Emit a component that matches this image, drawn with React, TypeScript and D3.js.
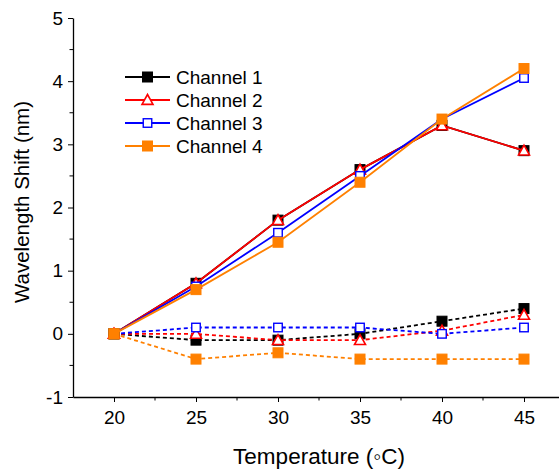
import React, { useRef, useEffect } from 'react';
import * as d3 from 'd3';

const temperatures = [20, 25, 30, 35, 40, 45];
const channelNames = ['Channel 1', 'Channel 2', 'Channel 3', 'Channel 4'];
const channelColors = ['#000000', '#ff0000', '#0000ff', '#ff8000'];
const channelMarkers = ['filledSquare', 'openTriangle', 'openSquare', 'filledSquare'];

// solid lines (one sensor set) and dashed lines (reference set)
const solidCh1 = [0, 0.8, 1.8, 2.6, 3.3, 2.9];
const solidCh2 = [0, 0.8, 1.8, 2.6, 3.3, 2.9];
const solidCh3 = [0, 0.75, 1.6, 2.5, 3.4, 4.05];
const solidCh4 = [0, 0.7, 1.45, 2.4, 3.4, 4.2];
const dashedCh1 = [0, -0.1, -0.1, 0, 0.2, 0.4];
const dashedCh2 = [0, 0, -0.1, -0.1, 0.05, 0.3];
const dashedCh3 = [0, 0.1, 0.1, 0.1, 0, 0.1];
const dashedCh4 = [0, -0.4, -0.3, -0.4, -0.4, -0.4];

const xTicks = [20, 25, 30, 35, 40, 45];
const yTicks = [-1, 0, 1, 2, 3, 4, 5];

const App: React.FC = () => {
  const svgRef = useRef<SVGSVGElement>(null);

  useEffect(() => {
    if (!svgRef.current) return;
    const svg = d3.select(svgRef.current);
    svg.selectAll('*').remove();

    const font = 'Arial, "Liberation Sans", sans-serif';
    const x = d3.scaleLinear().domain([17.5, 47.5]).range([73, 565]);
    const y = d3.scaleLinear().domain([-1, 5]).range([397, 18]);

    // x axis
    const xAxis = svg.append('g').attr('transform', `translate(0,${y(-1)})`);
    xAxis.call(d3.axisBottom(x).tickValues(xTicks).tickFormat(d => String(d))
      .tickSize(5).tickSizeOuter(0).tickPadding(9))
      .style('font-family', font).style('font-size', '19px');
    xAxis.append('g').selectAll('line')
      .data(d3.range(17.5, 48, 2.5).filter(v => v % 5 !== 0 && v > 17.5))
      .enter().append('line')
      .attr('x1', d => x(d)).attr('x2', d => x(d)).attr('y1', 0).attr('y2', 3.5)
      .attr('stroke', '#000');

    // y axis
    const yAxis = svg.append('g').attr('transform', `translate(${x(17.5)},0)`);
    yAxis.call(d3.axisLeft(y).tickValues(yTicks).tickFormat(d => String(d))
      .tickSize(5).tickSizeOuter(0).tickPadding(5))
      .style('font-family', font).style('font-size', '19px');
    yAxis.append('g').selectAll('line')
      .data(d3.range(-0.5, 5, 1))
      .enter().append('line')
      .attr('x1', 0).attr('x2', -3.5).attr('y1', d => y(d)).attr('y2', d => y(d))
      .attr('stroke', '#000');
    svg.selectAll('.domain').attr('stroke-width', 1.3);
    svg.selectAll('.tick text').attr('fill', '#000');

    // titles
    svg.append('text').attr('x', 319).attr('y', 464).attr('text-anchor', 'middle')
      .style('font-family', font).style('font-size', '22.5px').text('Temperature (\u25E6C)');
    svg.append('text').attr('transform', `translate(29,202) rotate(-90)`).attr('text-anchor', 'middle')
      .style('font-family', font).style('font-size', '20.5px').text('Wavelength Shift (nm)');

    const drawMarker = (g: d3.Selection<SVGGElement, unknown, null, undefined>, kind: string, color: string, cx: number, cy: number) => {
      if (kind === 'openTriangle') {
        const s = 5.5;
        g.append('path')
          .attr('d', `M${cx},${cy - s} L${cx + s},${cy + s * 0.8} L${cx - s},${cy + s * 0.8} Z`)
          .attr('fill', '#fff').attr('stroke', color).attr('stroke-width', 1.6);
      } else {
        const s = kind === 'openSquare' ? 8.5 : 10;
        g.append('rect')
          .attr('x', cx - s / 2).attr('y', cy - s / 2).attr('width', s).attr('height', s)
          .attr('fill', kind === 'filledSquare' ? color : '#fff')
          .attr('stroke', color).attr('stroke-width', kind === 'openSquare' ? 1.4 : 1);
      }
    };

    const solids = [solidCh1, solidCh2, solidCh3, solidCh4];
    const dasheds = [dashedCh1, dashedCh2, dashedCh3, dashedCh4];
    const line = d3.line<number>().x((_, i) => x(temperatures[i])).y(d => y(d));

    channelNames.forEach((_, c) => {
      const g = svg.append('g');
      const color = channelColors[c];
      g.append('path').attr('d', line(dasheds[c]) || '').attr('fill', 'none')
        .attr('stroke', color).attr('stroke-width', 1.8).attr('stroke-dasharray', '4,3');
      g.append('path').attr('d', line(solids[c]) || '').attr('fill', 'none')
        .attr('stroke', color).attr('stroke-width', 1.8);
      [...solids[c], ...dasheds[c]].forEach((v, i) => {
        drawMarker(g, channelMarkers[c], color, x(temperatures[i % temperatures.length]), y(v));
      });
    });

    // legend
    const legend = svg.append('g');
    channelNames.forEach((name, c) => {
      const ly = 77 + c * 23;
      legend.append('line').attr('x1', 125).attr('x2', 170).attr('y1', ly).attr('y2', ly)
        .attr('stroke', channelColors[c]).attr('stroke-width', 1.8);
      drawMarker(legend, channelMarkers[c], channelColors[c], 147.5, ly);
      legend.append('text').attr('x', 176).attr('y', ly + 7)
        .style('font-family', font).style('font-size', '19px').text(name);
    });
  }, []);

  return (
    <svg ref={svgRef} width={559} height={472}
      style={{ position: 'absolute', left: 0, top: 0, background: '#fff' }} />
  );
};

export default App;
